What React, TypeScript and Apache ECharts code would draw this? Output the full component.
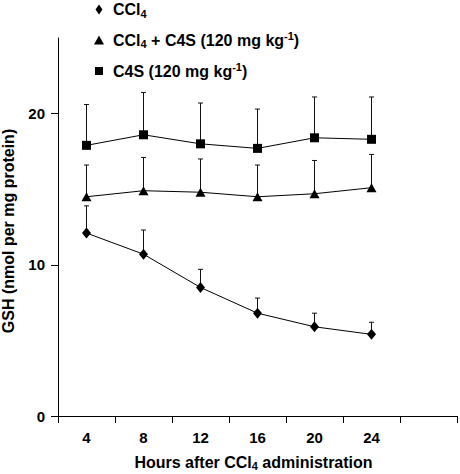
import React, { useEffect, useRef } from "react";
import * as echarts from "echarts";

const hours = ["4", "8", "12", "16", "20", "24", ""];
const yTicks = [0, 10, 20];

const ccl4 = [12.1, 10.7, 8.5, 6.8, 5.9, 5.4];
const ccl4Err = [1.8, 1.6, 1.2, 1.0, 0.9, 0.8];
const combo = [14.5, 14.9, 14.8, 14.5, 14.7, 15.1];
const comboErr = [2.1, 2.2, 2.2, 2.1, 2.2, 2.2];
const c4s = [17.9, 18.6, 18.0, 17.7, 18.4, 18.3];
const c4sErr = [2.7, 2.8, 2.7, 2.6, 2.7, 2.8];

const names = ["CCl4", "CCl4 + C4S (120 mg kg-1)", "C4S (120 mg kg-1)"];
const legendRich: Record<string, string> = {
  "CCl4": "{p|CCl}{sub|4}",
  "CCl4 + C4S (120 mg kg-1)": "{p|CCl}{sub|4}{t| + C4S (120 mg kg}{sup|-1}{t|)}",
  "C4S (120 mg kg-1)": "{p|C4S (120 mg kg}{sup|-1}{t|)}",
};

const FONT = "'Liberation Sans', Arial, Helvetica, sans-serif";

const richStyles = {
  p: { fontSize: 16, fontWeight: "bold", fontFamily: FONT, color: "#000", lineHeight: 20, padding: [0, 0, 0, 4] },
  t: { fontSize: 16, fontWeight: "bold", fontFamily: FONT, color: "#000", lineHeight: 20 },
  sub: { fontSize: 11, fontWeight: "bold", fontFamily: FONT, color: "#000", lineHeight: 11, padding: [8, 0, 0, 0] },
  sup: { fontSize: 11, fontWeight: "bold", fontFamily: FONT, color: "#000", lineHeight: 11, padding: [0, 0, 9, 0] },
};

const axisRich = {
  t: { fontSize: 16, fontWeight: "bold", fontFamily: FONT, color: "#000", lineHeight: 20 },
  sub: { fontSize: 11, fontWeight: "bold", fontFamily: FONT, color: "#000", lineHeight: 11, padding: [8, 0, 0, 0] },
};

function errSeries(vals: number[], errs: number[]) {
  return {
    type: "custom",
    z: 1,
    silent: true,
    data: vals.map((v, i) => [i, v, v + errs[i]]),
    renderItem: (params: any, api: any) => {
      const x = api.value(0);
      const p0 = api.coord([x, api.value(1)]);
      const p1 = api.coord([x, api.value(2)]);
      const cap = 2.5;
      return {
        type: "group",
        children: [
          {
            type: "line",
            shape: { x1: p0[0], y1: p0[1], x2: p1[0], y2: p1[1] },
            style: { stroke: "#111", lineWidth: 1 },
          },
          {
            type: "line",
            shape: { x1: p1[0] - cap, y1: p1[1], x2: p1[0] + cap, y2: p1[1] },
            style: { stroke: "#111", lineWidth: 1 },
          },
        ],
      };
    },
  };
}

export default function App() {
  const ref = useRef<HTMLDivElement>(null);
  useEffect(() => {
    const chart = echarts.init(ref.current!, null, { renderer: "svg" });
    const lineCommon = {
      type: "line",
      z: 3,
      lineStyle: { color: "#000", width: 1 },
      itemStyle: { color: "#000" },
      showSymbol: true,
    };
    chart.setOption({
      animation: false,
      backgroundColor: "#fff",
      textStyle: { fontFamily: FONT },
      grid: {
        left: 58,
        right: 3,
        top: 38,
        bottom: 58,
        containLabel: false,
        outerBoundsMode: "none",
      },
      legend: {
        orient: "vertical",
        left: 94,
        top: 0,
        padding: 0,
        itemWidth: 10,
        itemHeight: 10,
        itemGap: 11,
        symbolKeepAspect: true,
        data: [
          { name: names[0], icon: "path://M3.5,0L7,5L3.5,10L0,5Z" },
          { name: names[1], icon: "path://M5,0L10,9L0,9Z" },
          { name: names[2], icon: "path://M0,0M10,10M1,1L9,1L9,9L1,9Z" },
        ],
        formatter: (n: string) => legendRich[n],
        textStyle: { rich: richStyles, fontFamily: FONT },
        itemStyle: { color: "#000" },
        selectedMode: false,
      },
      xAxis: {
        type: "category",
        data: hours,
        boundaryGap: true,
        axisLine: { lineStyle: { color: "#000", width: 1 } },
        axisTick: { show: true, length: 7, lineStyle: { color: "#000" } },
        axisLabel: { color: "#000", fontSize: 15, fontWeight: "bold", margin: 14, fontFamily: FONT },
        name: "{t|Hours after CCl}{sub|4}{t| administration}",
        nameLocation: "middle",
        nameGap: 36,
        nameTextStyle: { rich: axisRich, padding: [0, 8, 0, 0] },
      },
      yAxis: {
        type: "value",
        min: 0,
        max: 25,
        interval: 10,
        splitLine: { show: false },
        axisLine: { show: true, lineStyle: { color: "#000", width: 1 } },
        axisTick: { show: true, length: 7, lineStyle: { color: "#000" }, customValues: yTicks },
        axisLabel: {
          color: "#000",
          fontSize: 15,
          fontWeight: "bold",
          margin: 13,
          fontFamily: FONT,
          customValues: yTicks,
        },
        name: "GSH (nmol per mg protein)",
        nameLocation: "middle",
        nameGap: 42,
        nameTextStyle: { color: "#000", fontSize: 16, fontWeight: "bold", fontFamily: FONT, padding: [0, 8, 0, 0] },
      },
      series: [
        errSeries(ccl4, ccl4Err),
        errSeries(combo, comboErr),
        errSeries(c4s, c4sErr),
        { ...lineCommon, name: names[0], data: ccl4, symbol: "diamond", symbolSize: [9, 11] },
        { ...lineCommon, name: names[1], data: combo, symbol: "triangle", symbolSize: [10, 9] },
        { ...lineCommon, name: names[2], data: c4s, symbol: "rect", symbolSize: 9 },
      ],
    });
    return () => chart.dispose();
  }, []);
  return (
    <div
      ref={ref}
      style={{ position: "absolute", left: 0, top: 0, width: 460, height: 474 }}
    />
  );
}
